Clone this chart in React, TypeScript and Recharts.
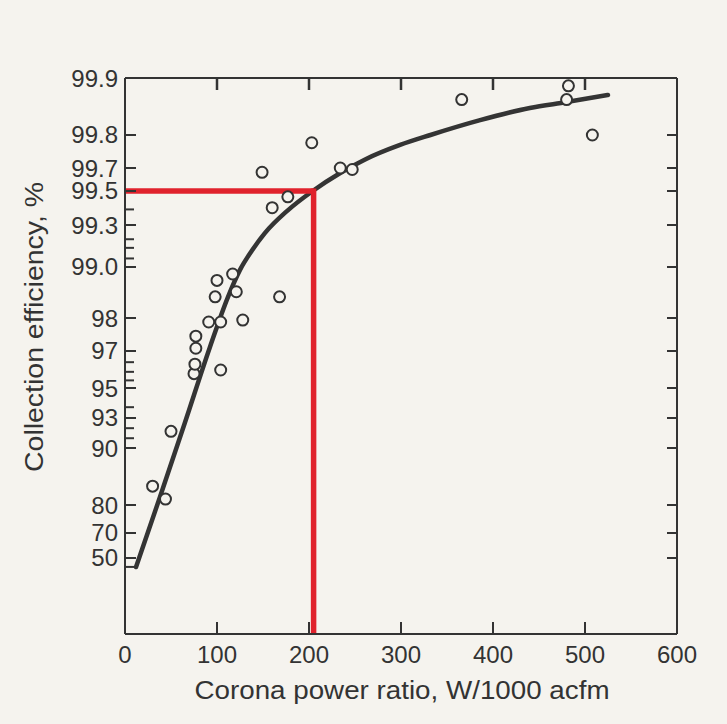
import React from "react";
import { ComposedChart, Line, Scatter, XAxis, YAxis, ReferenceLine } from "recharts";

// efficiency axis, labelled ticks top to bottom
const yTickLabels = ["99.9", "99.8", "99.7", "99.5", "99.3", "99.0", "98", "97", "95", "93", "90", "80", "70", "50"];
const yTickValues = [99.9, 99.8, 99.7, 99.5, 99.3, 99.0, 98, 97, 95, 93, 90, 80, 70, 50];
const yMinorValues = [99.4, 99.21, 99.15, 99.07, 96.5, 96.0, 95.5, 93.8, 92.1, 91.1, 40];
const xTicks = [0, 100, 200, 300, 400, 500, 600];

// measured points
const measPower = [30, 44, 50, 75, 76, 77, 77, 104, 91, 104, 128, 98, 121, 100, 117, 168, 160, 177, 149, 203, 234, 247, 366, 482, 480, 508];
const measEff = [84.1, 81.4, 91.8, 95.9, 96.4, 97.1, 97.5, 96.1, 97.9, 97.9, 97.95, 98.5, 98.6, 98.8, 98.9, 98.5, 99.41, 99.47, 99.67, 99.78, 99.7, 99.69, 99.87, 99.89, 99.87, 99.8];

// fitted curve
const fitPower = [12, 38, 65, 92, 112, 125, 138, 152, 176, 204, 234, 261, 299, 332, 386, 440, 480, 525];
const fitEff = [39.9, 81.85, 92.57, 97.11, 98.5, 98.96, 99.13, 99.25, 99.39, 99.5, 99.665, 99.73, 99.774, 99.8, 99.833, 99.856, 99.866, 99.877];

// design point (red guide lines)
const designPower = 205;
const designEff = 99.5;

// probability paper: where each labelled tick sits, % of axis height from top
const paperPos = [0, 10.25, 16.19, 20.32, 26.44, 33.99, 43.17, 49.1, 55.76, 61.15, 66.55, 76.8, 81.83, 86.33];
const paperLog = yTickValues.map((v) => Math.log10(100 - v));

function toPaper(eff: number) {
  const L = Math.log10(100 - eff);
  let i = 0;
  while (i < paperLog.length - 2 && L > paperLog[i + 1]) i++;
  const t = (L - paperLog[i]) / (paperLog[i + 1] - paperLog[i]);
  return paperPos[i] + t * (paperPos[i + 1] - paperPos[i]);
}

const majorPaper = yTickValues.map(toPaper);
const minorPaper = yMinorValues.map(toPaper);
const allYTicks = [...majorPaper, ...minorPaper];

const measRows = measPower.map((x, i) => ({ x, s: toPaper(measEff[i]) }));
const fitRows = fitPower.map((x, i) => ({ x, s: toPaper(fitEff[i]) }));
const designS = toPaper(designEff);

const INK = "#333";
const BG = "#f5f3ee";
const RED = "#e0222c";
const FONT = "'Liberation Sans', Arial, Helvetica, sans-serif";

function majorIndex(v: number) {
  return majorPaper.findIndex((p) => Math.abs(p - v) < 1e-6);
}

function LeftTick({ x, y, payload }: any) {
  const idx = majorIndex(payload.value);
  const major = idx >= 0;
  return (
    <g>
      <line x1={x} y1={y} x2={x + (major ? 11 : 9)} y2={y} stroke={INK} strokeWidth={2} />
      {major && (
        <text x={x - 7} y={y + 8.5} textAnchor="end" fontSize={24} fill={INK} fontFamily={FONT}>
          {yTickLabels[idx]}
        </text>
      )}
    </g>
  );
}

function RightTick({ x, y, payload }: any) {
  const major = majorIndex(payload.value) >= 0;
  return <line x1={x} y1={y} x2={x - (major ? 10 : 7)} y2={y} stroke={INK} strokeWidth={2} />;
}

function BottomTick({ x, y, payload }: any) {
  const v = payload.value;
  const inner = v > 0 && v < 600;
  return (
    <g>
      {inner && <line x1={x} y1={y} x2={x} y2={y - 12} stroke={INK} strokeWidth={2} />}
      <text x={x} y={y + 29} textAnchor="middle" fontSize={24} fill={INK} fontFamily={FONT}>
        {v}
      </text>
    </g>
  );
}

function TopTick({ x, y, payload }: any) {
  const v = payload.value;
  if (v <= 0 || v >= 600) return <g />;
  return <line x1={x} y1={y} x2={x} y2={y + 12} stroke={INK} strokeWidth={2.5} />;
}

function Ring(props: any) {
  return <circle cx={props.cx} cy={props.cy} r={5.5} fill={BG} stroke={INK} strokeWidth={2} />;
}

export default function App() {
  return (
    <div style={{ position: "absolute", left: 0, top: 0, width: 727, height: 724, background: BG }}>
      <ComposedChart
        width={727}
        height={724}
        data={fitRows}
        margin={{ top: 68, right: 40, bottom: 30, left: 15 }}
      >
        <XAxis
          dataKey="x"
          type="number"
          domain={[0, 600]}
          ticks={xTicks}
          interval={0}
          tickLine={false}
          tickSize={0}
          tickMargin={0}
          tick={<BottomTick />}
          axisLine={{ stroke: INK, strokeWidth: 2 }}
          height={60}
          allowDataOverflow
        />
        <XAxis
          xAxisId="top"
          orientation="top"
          dataKey="x"
          type="number"
          domain={[0, 600]}
          ticks={xTicks}
          interval={0}
          tickLine={false}
          tickSize={0}
          tickMargin={0}
          tick={<TopTick />}
          axisLine={{ stroke: INK, strokeWidth: 2 }}
          height={10}
          allowDataOverflow
        />
        <YAxis
          dataKey="s"
          type="number"
          domain={[0, 100]}
          reversed
          ticks={allYTicks}
          interval={0}
          tickLine={false}
          tickSize={0}
          tickMargin={0}
          tick={<LeftTick />}
          axisLine={{ stroke: INK, strokeWidth: 2 }}
          width={110}
          allowDataOverflow
        />
        <YAxis
          yAxisId="right"
          orientation="right"
          dataKey="s"
          type="number"
          domain={[0, 100]}
          reversed
          ticks={majorPaper}
          interval={0}
          tickLine={false}
          tickSize={0}
          tickMargin={0}
          tick={<RightTick />}
          axisLine={{ stroke: INK, strokeWidth: 2 }}
          width={10}
          allowDataOverflow
        />
        <Scatter
          data={measRows}
          xAxisId="top"
          yAxisId="right"
          dataKey="s"
          shape={() => <g />}
          isAnimationActive={false}
        />
        <Line
          dataKey="s"
          type="monotone"
          stroke="#343434"
          strokeWidth={4.5}
          strokeLinecap="round"
          dot={false}
          activeDot={false}
          isAnimationActive={false}
        />
        <Scatter data={measRows} dataKey="s" shape={<Ring />} isAnimationActive={false} />
        <ReferenceLine
          segment={[
            { x: 0, y: designS },
            { x: designPower, y: designS },
          ]}
          stroke={RED}
          strokeWidth={5.5}
          ifOverflow="visible"
        />
        <ReferenceLine
          segment={[
            { x: designPower, y: designS - 0.45 },
            { x: designPower, y: 100 },
          ]}
          stroke={RED}
          strokeWidth={5.5}
          ifOverflow="visible"
        />
      </ComposedChart>
      <svg
        width={727}
        height={724}
        style={{ position: "absolute", left: 0, top: 0, pointerEvents: "none" }}
      >
        <text
          x={402}
          y={699}
          textAnchor="middle"
          fontSize={25}
          fill={INK}
          fontFamily={FONT}
          textLength={415}
          lengthAdjust="spacingAndGlyphs"
        >
          Corona power ratio, W/1000 acfm
        </text>
        <text
          transform="translate(43,327) rotate(-90)"
          textAnchor="middle"
          fontSize={25}
          fill={INK}
          fontFamily={FONT}
          textLength={290}
          lengthAdjust="spacingAndGlyphs"
        >
          Collection efficiency, %
        </text>
      </svg>
    </div>
  );
}
